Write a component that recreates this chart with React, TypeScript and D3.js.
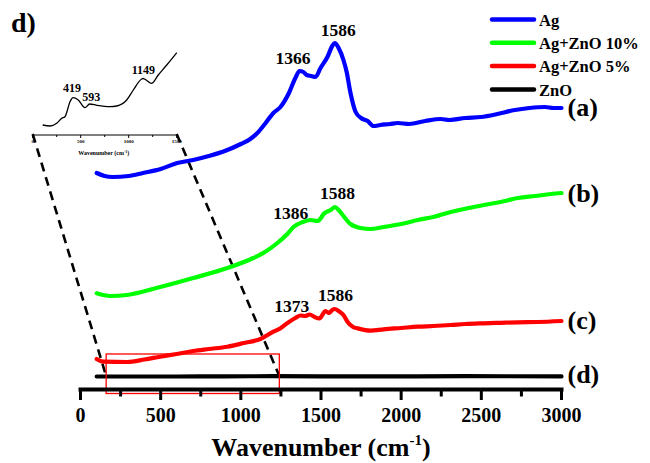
import React from "react";
import * as d3 from "d3";

// Raman spectra (arbitrary intensity units, stacked with offsets)
const wavenumberTicks = [0, 500, 1000, 1500, 2000, 2500, 3000];
const minorTicks = [250, 750, 1250, 1750, 2250, 2750];

const agSpectrum: [number, number][] = [
  [101, 217], [150, 214], [200, 213], [300, 214], [390, 217], [500, 221], [603, 227], [703, 230],
  [800, 234], [900, 239], [1000, 246], [1059, 251], [1103, 257], [1150, 266], [1203, 277],
  [1247, 283], [1300, 297], [1340, 312], [1366, 319], [1390, 318], [1410, 315], [1440, 314],
  [1466, 313], [1497, 322], [1540, 333], [1570, 344], [1586, 347], [1610, 342], [1640, 330],
  [1660, 318], [1684, 297], [1716, 278], [1750, 272], [1791, 269], [1828, 264], [1870, 265],
  [1930, 266], [1978, 267], [2050, 266], [2150, 269], [2247, 271], [2300, 270], [2400, 272],
  [2497, 273], [2600, 276], [2709, 280], [2800, 282], [2897, 283], [2950, 282], [3000, 282],
];

const agZnO10Spectrum: [number, number][] = [
  [101, 96.7], [184, 94], [289, 95], [497, 103], [703, 112], [916, 122], [1078, 132],
  [1150, 138], [1228, 147], [1290, 156], [1328, 163], [1386, 168], [1434, 170], [1478, 169],
  [1500, 172], [1516, 176], [1560, 180], [1588, 183], [1610, 180], [1640, 174], [1684, 166],
  [1747, 162], [1809, 161], [1891, 163], [2000, 166], [2103, 170], [2200, 173], [2309, 178],
  [2420, 182], [2516, 185], [2620, 188], [2728, 192], [2834, 194], [2934, 196], [3000, 197],
];

const agZnO5Spectrum: [number, number][] = [
  [101, 31], [141, 28.3], [291, 28], [400, 30.5], [497, 33.3], [600, 36], [703, 39],
  [800, 41], [916, 43.3], [1020, 47], [1122, 51], [1203, 58.3], [1250, 62], [1291, 67],
  [1340, 72], [1373, 74.5], [1400, 74], [1430, 75.5], [1460, 73], [1490, 71.5], [1528, 79],
  [1550, 77], [1570, 80], [1586, 81], [1610, 79], [1640, 75], [1666, 68], [1700, 63],
  [1727, 61.7], [1809, 59.3], [1891, 60.7], [2000, 62], [2103, 63.3], [2200, 64], [2309, 65],
  [2400, 66], [2516, 66.7], [2620, 67.2], [2728, 67.7], [2850, 68], [3000, 69],
];

const znoSpectrum: [number, number][] = [
  [101, 13.5], [600, 13.5], [1200, 13.8], [1800, 13.6], [2400, 13.8], [3000, 13.6],
];

// Low-wavenumber ZnO detail shown in the inset
const znoInset: [number, number][] = [
  [104, 10], [180, 9], [250, 11.7], [302, 16.7], [336, 18.3], [389, 33.3], [419, 37.3],
  [475, 35], [545, 27.3], [593, 31], [667, 29.7], [805, 28.3], [875, 29], [979, 35],
  [1048, 45], [1135, 56], [1149, 56.5], [1170, 55.7], [1240, 51.7], [1308, 60], [1396, 70],
  [1500, 82.3],
];
const insetTicks = [0, 500, 1000, 1500];
const insetMinorTicks = [250, 750, 1250];

const series = [
  { name: "Ag", color: "#0000ff", data: agSpectrum, tag: "(a)" },
  { name: "Ag+ZnO 10%", color: "#00ff00", data: agZnO10Spectrum, tag: "(b)" },
  { name: "Ag+ZnO 5%", color: "#ff0000", data: agZnO5Spectrum, tag: "(c)" },
  { name: "ZnO", color: "#000000", data: znoSpectrum, tag: "(d)" },
];

const peakLabels = [
  { wn: 1366, value: 319, text: "1366", dx: -6.5, dy: -7 },
  { wn: 1586, value: 347, text: "1586", dx: 3.5, dy: -7.3 },
  { wn: 1386, value: 168, text: "1386", dx: -12, dy: -2.7 },
  { wn: 1588, value: 183, text: "1588", dx: 2.4, dy: -7.7 },
  { wn: 1373, value: 74.5, text: "1373", dx: -9, dy: -3.8 },
  { wn: 1586, value: 81, text: "1586", dx: 0.7, dy: -8.3 },
];
const insetPeaks = [
  { wn: 419, value: 37.3, text: "419", dx: -0.9, dy: -6 },
  { wn: 593, value: 31, text: "593", dx: 1.7, dy: -3.3 },
  { wn: 1149, value: 56.5, text: "1149", dx: 0.3, dy: -4.2 },
];

// Zoomed region (wavenumber / intensity) that the inset enlarges
const zoomRegion = { x0: 160, x1: 1240, y0: -3.5, y1: 36 };
const connectorLevel = 14;

const FONT = "'Liberation Serif', 'Times New Roman', serif";

export default function App() {
  const width = 650;
  const height = 463;

  const x = d3.scaleLinear().domain([0, 3000]).range([80.5, 561.5]);
  const y = d3.scaleLinear().domain([0, 390]).range([390, 0]);

  const line = d3
    .line<[number, number]>()
    .x((d) => x(d[0]))
    .y((d) => y(d[1]))
    .curve(d3.curveMonotoneX);

  // Inset scales
  const ix = d3.scaleLinear().domain([0, 1500]).range([32.7, 176.7]);
  const iy = d3.scaleLinear().domain([0, 135]).range([135, 0]);
  const insetLine = d3
    .line<[number, number]>()
    .x((d) => ix(d[0]))
    .y((d) => iy(d[1]))
    .curve(d3.curveMonotoneX);

  const axisY = y(0) - 0.5;

  return (
    <svg
      width={width}
      height={height}
      style={{ position: "absolute", left: 0, top: 0, display: "block", background: "#fff" }}
      fontFamily={FONT}
      fontWeight="bold"
    >
      {/* panel letter */}
      <text x={11} y={32} fontSize={28}>d)</text>

      {/* connector lines from the zoomed window to the inset */}
      <line
        x1={ix(0)} y1={iy(0) - 1} x2={x(zoomRegion.x0)} y2={y(connectorLevel)}
        stroke="#000" strokeWidth={2.6} strokeDasharray="9,6"
      />
      <line
        x1={ix(1500)} y1={iy(0) - 1} x2={x(zoomRegion.x1)} y2={y(connectorLevel)}
        stroke="#000" strokeWidth={2.6} strokeDasharray="9,6"
      />

      {/* spectra */}
      {series.map((s) => (
        <path
          key={s.name}
          d={line(s.data) ?? ""}
          fill="none"
          stroke={s.color}
          strokeWidth={4.2}
          strokeLinejoin="round"
          strokeLinecap="round"
        />
      ))}

      {/* zoom window */}
      <rect
        x={x(zoomRegion.x0)}
        y={y(zoomRegion.y1)}
        width={x(zoomRegion.x1) - x(zoomRegion.x0)}
        height={y(zoomRegion.y0) - y(zoomRegion.y1)}
        fill="none"
        stroke="#ff0000"
        strokeWidth={1.3}
      />

      {/* series tags */}
      {series.map((s) => {
        const last = s.data[s.data.length - 1];
        const tagOffset: Record<string, number> = { "(a)": 8, "(b)": 9, "(c)": 8, "(d)": 7 };
        return (
          <text key={s.tag} x={x(3000) + 6} y={y(last[1]) + tagOffset[s.tag]} fontSize={26}>
            {s.tag}
          </text>
        );
      })}

      {/* peak labels */}
      {peakLabels.map((p, i) => (
        <text key={i} x={x(p.wn) + p.dx} y={y(p.value) + p.dy} fontSize={17.5} textAnchor="middle">
          {p.text}
        </text>
      ))}

      {/* x axis */}
      <line x1={x(0) - 2} x2={x(3000) + 2} y1={axisY} y2={axisY} stroke="#000" strokeWidth={4} />
      {wavenumberTicks.map((t) => (
        <g key={t}>
          <line x1={x(t)} x2={x(t)} y1={axisY} y2={axisY + 10.5} stroke="#000" strokeWidth={3} />
          <text x={x(t)} y={421.5} fontSize={20} textAnchor="middle">{t}</text>
        </g>
      ))}
      {minorTicks.map((t) => (
        <line key={t} x1={x(t)} x2={x(t)} y1={axisY} y2={axisY + 7} stroke="#000" strokeWidth={3} />
      ))}
      <text x={(x(0) + x(3000)) / 2} y={456} fontSize={26} textAnchor="middle">
        Wavenumber (cm<tspan dy={-11} fontSize={15}>-1</tspan><tspan dy={11}>)</tspan>
      </text>

      {/* legend */}
      {series.map((s, i) => {
        const ly = 19.5 + i * 23.3;
        return (
          <g key={s.name}>
            <line x1={492} x2={534} y1={ly} y2={ly} stroke={s.color} strokeWidth={4.5} strokeLinecap="round" />
            <text x={539} y={ly + 6.3} fontSize={16.5}>{s.name}</text>
          </g>
        );
      })}

      {/* inset */}
      <path d={insetLine(znoInset) ?? ""} fill="none" stroke="#000" strokeWidth={1.3} />
      {insetPeaks.map((p) => (
        <text key={p.text} x={ix(p.wn) + p.dx} y={iy(p.value) + p.dy} fontSize={12} textAnchor="middle">
          {p.text}
        </text>
      ))}
      <line x1={ix(0)} x2={ix(1500)} y1={iy(0)} y2={iy(0)} stroke="#000" strokeWidth={1.2} />
      {insetTicks.map((t) => (
        <g key={t}>
          <line x1={ix(t)} x2={ix(t)} y1={iy(0)} y2={iy(0) + 3} stroke="#000" strokeWidth={1} />
          <text x={ix(t)} y={iy(0) + 8} fontSize={5} textAnchor="middle">{t}</text>
        </g>
      ))}
      {insetMinorTicks.map((t) => (
        <line key={t} x1={ix(t)} x2={ix(t)} y1={iy(0)} y2={iy(0) + 2} stroke="#000" strokeWidth={1} />
      ))}
      <text x={ix(750) - 1} y={iy(0) + 20} fontSize={6} textAnchor="middle">
        Wavenumber (cm<tspan dy={-2.5} fontSize={3.8}>-1</tspan><tspan dy={2.5}>)</tspan>
      </text>
    </svg>
  );
}
